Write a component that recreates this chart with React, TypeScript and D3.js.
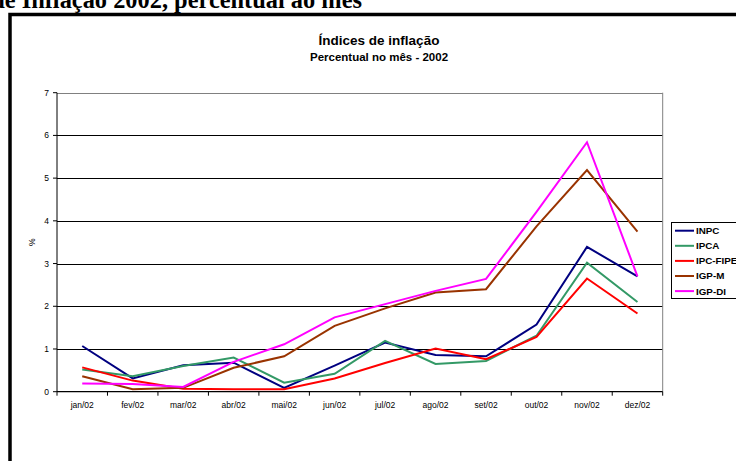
import React from "react";
import * as d3 from "d3";

// Monthly inflation indices, Brazil 2002 (% per month)
const months = ["jan/02", "fev/02", "mar/02", "abr/02", "mai/02", "jun/02", "jul/02", "ago/02", "set/02", "out/02", "nov/02", "dez/02"];
const inpc = [1.07, 0.31, 0.62, 0.68, 0.09, 0.61, 1.15, 0.86, 0.83, 1.57, 3.39, 2.7];
const ipca = [0.52, 0.36, 0.6, 0.8, 0.21, 0.42, 1.19, 0.65, 0.72, 1.31, 3.02, 2.1];
const ipcFipe = [0.57, 0.26, 0.07, 0.06, 0.06, 0.31, 0.67, 1.01, 0.76, 1.28, 2.65, 1.83];
const igpM = [0.36, 0.06, 0.09, 0.56, 0.83, 1.54, 1.95, 2.32, 2.4, 3.87, 5.19, 3.75];
const igpDi = [0.19, 0.18, 0.11, 0.7, 1.11, 1.74, 2.05, 2.36, 2.64, 4.21, 5.84, 2.7];
const yTicks = [0, 1, 2, 3, 4, 5, 6, 7];

const series = [
  { name: "INPC", values: inpc, color: "#000080" },
  { name: "IPCA", values: ipca, color: "#339966" },
  { name: "IPC-FIPE", values: ipcFipe, color: "#FF0000" },
  { name: "IGP-M", values: igpM, color: "#993300" },
  { name: "IGP-DI", values: igpDi, color: "#FF00FF" },
];

const W = 736;
const H = 461;
const plot = { left: 57, right: 662.7, top: 92.7, bottom: 391.7 };
const sans = "Arial, 'Liberation Sans', sans-serif";

export default function App() {
  const x = d3.scaleBand<string>().domain(months).range([plot.left, plot.right]).padding(0);
  const y = d3.scaleLinear().domain([0, 7]).range([plot.bottom, plot.top]);
  const cx = (m: string) => (x(m) as number) + x.bandwidth() / 2;
  const line = d3
    .line<number>()
    .x((_, i) => cx(months[i]))
    .y((v) => y(v));

  const boundaries = months.map((m) => x(m) as number).concat([plot.right]);

  return (
    <svg
      width={W}
      height={H}
      style={{ position: "absolute", left: 0, top: 0, display: "block", background: "#fff" }}
    >
      {/* page heading above the chart frame */}
      <text
        x={362}
        y={8}
        textAnchor="end"
        fontFamily="'Times New Roman', 'Liberation Serif', serif"
        fontWeight="bold"
        fontSize={24.4}
        fill="#000"
      >
        Índices de Inflação 2002, percentual ao mês
      </text>

      {/* chart frame */}
      <rect x={10} y={14.5} width={900} height={600} fill="none" stroke="#000" strokeWidth={3.5} />

      {/* titles */}
      <text x={379} y={45} textAnchor="middle" fontFamily={sans} fontWeight="bold" fontSize={13.5} fill="#000">
        Índices de inflação
      </text>
      <text x={379} y={61} textAnchor="middle" fontFamily={sans} fontWeight="bold" fontSize={11.5} fill="#000">
        Percentual no mês - 2002
      </text>

      {/* gridlines */}
      {yTicks.slice(1).map((t) => (
        <line
          key={t}
          x1={plot.left}
          x2={plot.right}
          y1={Math.round(y(t)) + 0.5}
          y2={Math.round(y(t)) + 0.5}
          stroke={t === 7 ? "#808080" : "#000"}
          strokeWidth={1}
        />
      ))}
      {/* plot area right border */}
      <line x1={plot.right} x2={plot.right} y1={plot.top} y2={plot.bottom} stroke="#808080" strokeWidth={1} />

      {/* y axis */}
      <line x1={plot.left} x2={plot.left} y1={plot.top} y2={plot.bottom} stroke="#000" strokeWidth={1} />
      {yTicks.map((t) => (
        <g key={t}>
          <line x1={plot.left - 4} x2={plot.left} y1={y(t)} y2={y(t)} stroke="#000" strokeWidth={1} />
          <text x={plot.left - 8} y={y(t) + 3} textAnchor="end" fontFamily={sans} fontSize={8.5} fill="#000">
            {t}
          </text>
        </g>
      ))}
      <text
        transform={`translate(35,${(plot.top + plot.bottom) / 2}) rotate(-90)`}
        textAnchor="middle"
        fontFamily={sans}
        fontSize={8.5}
        fill="#000"
      >
        %
      </text>

      {/* x axis */}
      <line x1={plot.left} x2={plot.right} y1={plot.bottom} y2={plot.bottom} stroke="#000" strokeWidth={1.2} />
      {boundaries.map((b, i) => (
        <line key={i} x1={b} x2={b} y1={plot.bottom} y2={plot.bottom + 4} stroke="#000" strokeWidth={1} />
      ))}
      {months.map((m) => (
        <text key={m} x={cx(m)} y={plot.bottom + 16} textAnchor="middle" fontFamily={sans} fontSize={8.5} fill="#000">
          {m}
        </text>
      ))}

      {/* series lines */}
      {series.map((s) => (
        <path key={s.name} d={line(s.values) || ""} fill="none" stroke={s.color} strokeWidth={2} strokeLinejoin="miter" />
      ))}

      {/* legend */}
      <rect x={671.5} y={222.5} width={90} height={76} fill="#fff" stroke="#000" strokeWidth={1} />
      {series.map((s, i) => {
        const ly = 230.7 + i * 15.1;
        return (
          <g key={s.name}>
            <line x1={675} x2={694} y1={ly} y2={ly} stroke={s.color} strokeWidth={2} />
            <text x={696} y={ly + 3.4} fontFamily={sans} fontWeight="bold" fontSize={9.8} fill="#000">
              {s.name}
            </text>
          </g>
        );
      })}
    </svg>
  );
}
